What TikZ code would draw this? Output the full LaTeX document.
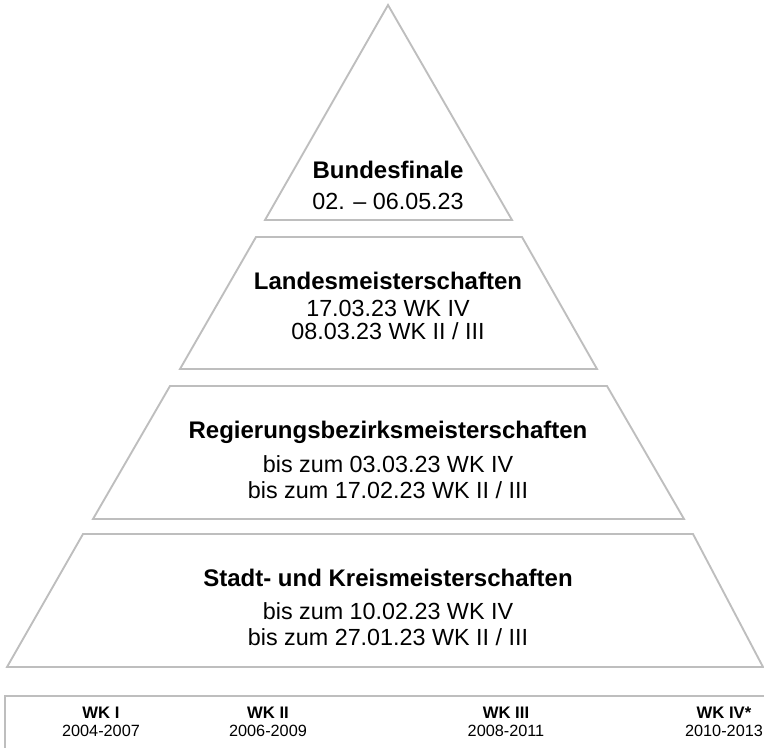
\documentclass[tikz,border=0pt]{standalone}
\usepackage{fontspec}
\setmainfont{Liberation Sans}
\usepackage{tikz}
\usetikzlibrary{positioning}
\definecolor{edgegray}{RGB}{190,190,190}
\tikzset{
level/.style={draw=edgegray, line width=1.4pt, line join=miter}, % outline of each pyramid level
title/.style={font=\fontsize{18}{20}\selectfont\bfseries, anchor=base}, % name of the level
dates/.style={font=\fontsize{17.5}{20}\selectfont, anchor=base}, % dates below the name
wkname/.style={font=\fontsize{12.5}{14}\selectfont\bfseries, anchor=base}, % class in the box at the bottom
wkyears/.style={font=\fontsize{12.2}{14}\selectfont, anchor=base}, % birth years in the box
}

\begin{document}
\begin{tikzpicture}[x=0.75pt, y=-0.75pt]
    \clip (0,0) rectangle (764,747);
    \fill[white] (0,0) rectangle (764,747);

    % pyramid
    \draw[level] (388,5) -- (512,220) -- (265,220) -- cycle;
    \draw[level] (256,237) -- (522,237) -- (597,369) -- (180,369) -- cycle;
    \draw[level] (170,386) -- (607,386) -- (684,519) -- (93,519) -- cycle;
    \draw[level] (83,534) -- (693,534) -- (763,667) -- (7,667) -- cycle;

    % texts
    \node[title] (bund) at (388,178) {Bundesfinale};
    \node[dates] (bundA) at (388,209) {02. -- 06.05.23};

    \node[title] (land) at (388,289) {Landesmeisterschaften};
    \node[dates] (landA) at (388,316) {17.03.23 WK IV};
    \node[dates] (landB) at (388,339) {08.03.23 WK II / III};

    \node[title] (bez) at (388,438) {Regierungsbezirksmeisterschaften};
    \node[dates] (bezA) at (388,472) {bis zum 03.03.23 WK IV};
    \node[dates] (bezB) at (388,498) {bis zum 17.02.23 WK II / III};

    \node[title] (kreis) at (388,586) {Stadt- und Kreismeisterschaften};
    \node[dates] (kreisA) at (388,619) {bis zum 10.02.23 WK IV};
    \node[dates] (kreisB) at (388,645) {bis zum 27.01.23 WK II / III};

    % box with the classes
    \draw[level] (5,770) -- (5,696) -- (780,696);
    \node[wkname] (wk1) at (101,718) {WK I};
    \node[wkyears] (y1) at (101,736) {2004-2007};
    \node[wkname] (wk2) at (268,718) {WK II};
    \node[wkyears] (y2) at (268,736) {2006-2009};
    \node[wkname] (wk3) at (506,718) {WK III};
    \node[wkyears] (y3) at (506,736) {2008-2011};
    \node[wkname] (wk4) at (724,718) {WK IV*};
    \node[wkyears] (y4) at (724,736) {2010-2013};
\end{tikzpicture}
\end{document}
